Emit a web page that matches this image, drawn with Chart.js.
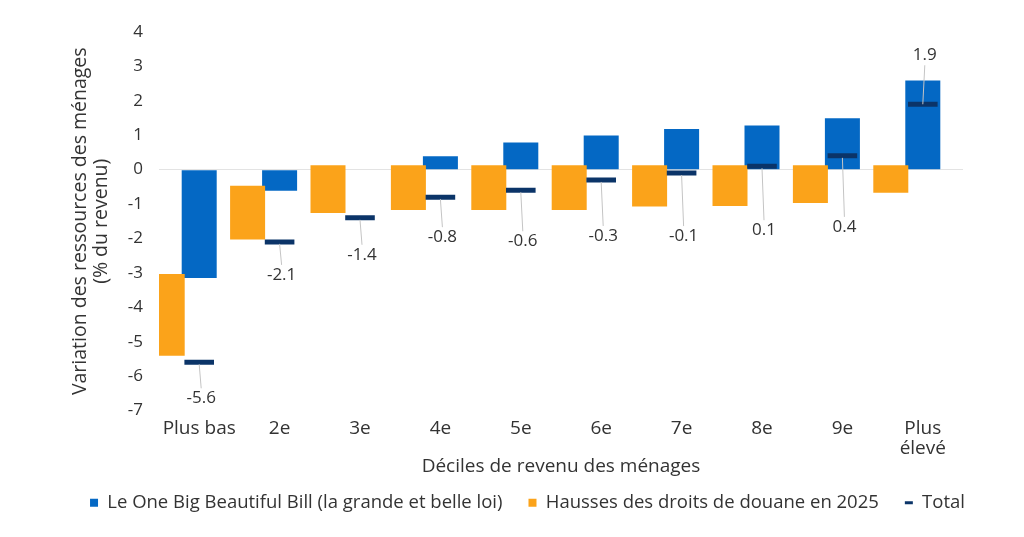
<!DOCTYPE html>
<html lang="fr">
<head>
<meta charset="utf-8">
<title>Variation des ressources des ménages</title>
<script src="https://cdn.jsdelivr.net/npm/chart.js@4.4.1/dist/chart.umd.min.js"></script>
<style>
  html, body { margin: 0; padding: 0; background: #fff; }
  #wrap { width: 1024px; height: 537px; position: relative; }
</style>
</head>
<body>
<div id="wrap"><canvas id="chart"></canvas></div>
<script>
// Déciles de revenu
const deciles = ['Plus bas', '2e', '3e', '4e', '5e', '6e', '7e', '8e', '9e', ['Plus', 'élevé']];

// One Big Beautiful Bill (% du revenu)
const obbb = [-3.15, -0.61, 0, 0.39, 0.79, 0.99, 1.18, 1.28, 1.49, 2.59];

// Hausses des droits de douane : barres flottantes (haut, bas)
const tariffTop = [-3.03, -0.47, 0.13, 0.13, 0.13, 0.13, 0.13, 0.13, 0.13, 0.13];
const tariffBottom = [-5.41, -2.03, -1.26, -1.17, -1.17, -1.17, -1.07, -1.06, -0.97, -0.67];

// Total
const totals = [-5.6, -2.1, -1.4, -0.8, -0.6, -0.3, -0.1, 0.1, 0.4, 1.9];

const yMin = -7;
const yMax = 4;

const BLUE = '#0468c4';
const ORANGE = '#fba31a';
const NAVY = '#0b3468';
const TEXT = '#333333';
const FONT = "'Open Sans', sans-serif";

// étiquettes du total avec trait de rappel
const totalLabels = {
  id: 'totalLabels',
  afterDatasetsDraw(chart) {
    const dy = [36, 33, 37, 40, 51, 56, 63, 64, 71, -49];
    const meta = chart.getDatasetMeta(2);
    const ctx = chart.ctx;
    ctx.save();
    ctx.font = '17px ' + FONT;
    ctx.textAlign = 'center';
    ctx.textBaseline = 'middle';
    meta.data.forEach((pt, i) => {
      const x = pt.x, y = pt.y;
      const ly = y + dy[i];
      ctx.strokeStyle = '#c4c4c4';
      ctx.lineWidth = 1;
      ctx.beginPath();
      if (dy[i] > 0) {
        ctx.moveTo(x, y + 2);
        ctx.lineTo(x + 2, ly - 10);
      } else {
        ctx.moveTo(x, y);
        ctx.lineTo(x + 2, ly + 10);
      }
      ctx.stroke();
      ctx.fillStyle = TEXT;
      ctx.fillText(totals[i].toFixed(1), x + 2, ly);
    });
    ctx.restore();
  }
};

// recale la légende comme dans l'original
const legendShift = {
  id: 'legendShift',
  afterLayout(chart) {
    const lg = chart.legend;
    lg.left += 46;
    lg.right += 46;
    lg.top -= 10;
    lg.bottom -= 10;
  }
};

new Chart(document.getElementById('chart'), {
  type: 'bar',
  data: {
    labels: deciles,
    datasets: [
      {
        label: 'Le One Big Beautiful Bill (la grande et belle loi)',
        data: obbb,
        backgroundColor: BLUE,
        pointStyle: 'rect',
        order: 1
      },
      {
        label: 'Hausses des droits de douane en 2025',
        data: tariffTop.map((t, i) => [t, tariffBottom[i]]),
        backgroundColor: ORANGE,
        pointStyle: 'rect',
        order: 0
      },
      {
        type: 'line',
        label: 'Total',
        data: totals,
        showLine: false,
        pointStyle: 'line',
        pointRadius: 14.8,
        pointHoverRadius: 14.8,
        borderColor: NAVY,
        backgroundColor: NAVY,
        borderWidth: 5,
        pointBorderWidth: 5,
        order: -1
      },
      {
        // emplacement vide à droite, pour centrer la barre bleue sur la catégorie
        label: '',
        data: [],
        order: 2
      }
    ]
  },
  options: {
    responsive: true,
    maintainAspectRatio: false,
    animation: false,
    categoryPercentage: 1.194,
    barPercentage: 1.094,
    layout: { padding: { top: 32, right: 61, left: 0, bottom: 5 } },
    plugins: {
      tooltip: { enabled: false },
      legend: {
        position: 'bottom',
        labels: {
          usePointStyle: true,
          boxHeight: 8,
          pointStyleWidth: 8,
          padding: 26,
          color: TEXT,
          font: { family: FONT, size: 18.5 },
          filter: item => item.text !== '',
          sort: (a, b) => a.datasetIndex - b.datasetIndex,
          generateLabels(chart) {
            const items = Chart.defaults.plugins.legend.labels.generateLabels(chart);
            items.forEach(it => { if (it.datasetIndex === 2) it.lineWidth = 3; });
            return items;
          }
        }
      }
    },
    scales: {
      x: {
        grid: { display: false, drawTicks: false },
        border: { display: false },
        ticks: {
          color: TEXT,
          padding: 8,
          font: { family: FONT, size: 19, lineHeight: 1.05 },
          maxRotation: 0
        },
        title: {
          display: true,
          text: 'Déciles de revenu des ménages',
          color: TEXT,
          font: { family: FONT, size: 19, lineHeight: 1.2 },
          padding: { top: 0, bottom: 0 }
        },
        afterFit(scale) { scale.height = 67; }
      },
      y: {
        min: yMin,
        max: yMax,
        border: { display: false },
        grid: {
          drawTicks: false,
          color: ctx => ctx.tick && ctx.tick.value === 0 ? '#e3e3e3' : 'rgba(0,0,0,0)'
        },
        ticks: {
          stepSize: 1,
          color: TEXT,
          padding: 16,
          font: { family: FONT, size: 17 }
        },
        title: {
          display: true,
          text: ['Variation des ressources des ménages', '(% du revenu)'],
          color: TEXT,
          font: { family: FONT, size: 19.5, lineHeight: 1.08 },
          padding: { top: 69.5, bottom: 0 }
        },
        afterFit(scale) { scale.width = 159; }
      }
    }
  },
  plugins: [totalLabels, legendShift]
});
</script>
</body>
</html>
